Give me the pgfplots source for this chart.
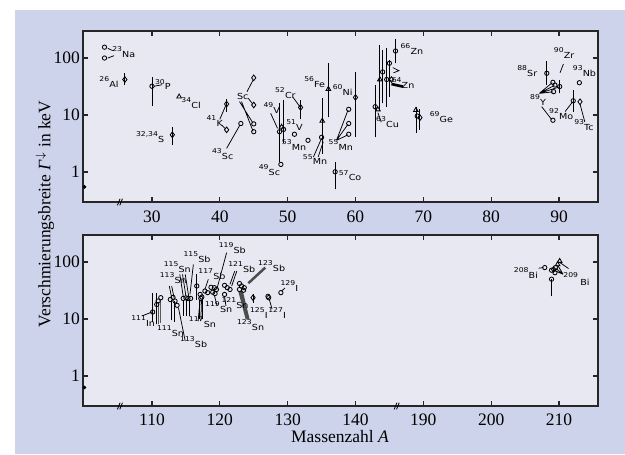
\documentclass[border=0pt]{standalone}
\usepackage{fontspec}
\setmainfont{Liberation Serif}
\newfontfamily\labfont[FakeStretch=1.15]{DejaVu Sans}
\usepackage{pgfplots}
\pgfplotsset{compat=1.18}
\definecolor{outerbg}{RGB}{205,211,235}
\definecolor{innerbg}{RGB}{231,232,242}
\newcommand{\labsup}{\fontsize{4}{4}\selectfont}
\newcommand{\iso}[2]{\raisebox{3.5pt}{\labsup #1}\kern0.1pt#2}
\tikzset{mylab/.style={font=\labfont\fontsize{5}{6}\selectfont, inner sep=0pt, anchor=base west}}
\pgfplotsset{
 mycirc/.style={only marks, mark=o, mark size=1.3pt, mark options={line width=0.5pt, black}},
 mydiam/.style={only marks, mark=diamond, mark size=1.7pt, mark options={line width=0.5pt, black}},
 mytri/.style={only marks, mark=triangle, mark size=1.6pt, mark options={line width=0.5pt, black}},
 mybar/.style={black, line width=0.55pt, mark=none, unbounded coords=jump},
}
\begin{document}
\begin{tikzpicture}[x=0.6pt,y=0.6pt]
\path[use as bounding box] (0,0) rectangle (625,454);
\fill[white] (0,0) rectangle (625,454);
\fill[outerbg] (15,0) rectangle (625,444);

% ---------------- top panel ----------------
\begin{axis}[at={(49.8pt,151.2pt)}, anchor=south west,
  scale only axis, width=309pt, height=102.6pt,
  ymode=log, ymin=0.298, ymax=298,
  ytick={1,10,100}, yticklabels={1,10,100}, yminorticks=false,
  tick align=inside, major tick length=3pt,
  axis line style={line width=0.9pt, black!85},
  every tick/.style={black!85, line width=0.7pt},
  axis background/.style={fill=innerbg},
  tick label style={font=\fontsize{10.5}{12}\selectfont},
  yticklabel style={xshift=1.7pt},
  xticklabel style={yshift=-1.6pt},
  clip=false,
  xmin=19.83, xmax=95.75,
  xtick={30,40,50,60,70,80,90}, xticklabels={30,40,50,60,70,80,90}]
\addplot[mybar] coordinates {
(26,34)(26,55)(26,nan)
(30,14.4)(30,47)(30,nan)
(33,3.0)(33,6.2)(33,nan)
(41,11.5)(41,19.5)(41,nan)
(48.8,1.52)(48.8,16)(48.8,nan)
(49.4,3.2)(49.4,18)(49.4,nan)
(51.9,8.4)(51.9,18)(51.9,nan)
(56,9.1)(56,81)(56,nan)
(55.1,2.1)(55.1,19.6)(55.1,nan)
(60,4.2)(60,57)(60,nan)
(57,0.5)(57,1.5)(57,nan)
(62.9,4.06)(62.9,33.6)(62.9,nan)
(63.5,12.2)(63.5,169)(63.5,nan)
(64,16)(64,140)(64,nan)
(64.6,14)(64.6,148)(64.6,nan)
(65,21)(65,92)(65,nan)
(65.9,81)(65.9,213)(65.9,nan)
(69,4.8)(69,14)(69,nan)
(69.5,5.5)(69.5,13)(69.5,nan)
(88.2,34)(88.2,90)(88.2,nan)
(90.1,24)(90.1,41)(90.1,nan)
(92.1,11.5)(92.1,27.5)
};
\addplot[mybar, line width=0.45pt] coordinates {
(23.5,100)(24.4,110)(24.4,nan)
(23.5,148)(24.2,135)(24.2,nan)
(30.3,32)(31.5,34)(31.5,nan)
(40.0,8.4)(40.85,14.5)(40.85,nan)
(40.3,6.6)(40.85,5.7)(40.85,nan)
(41.0,2.6)(42.97,6.7)(42.97,nan)
(44.0,25.6)(44.9,41)(44.9,nan)
(44.2,19.6)(44.85,15.6)(44.85,nan)
(42.9,17.2)(44.9,7.2)(44.9,nan)
(43.2,17.2)(44.9,5.2)(44.9,nan)
(47.5,10.7)(48.5,5.85)(48.5,nan)
(50.8,20.4)(51.8,14)(51.8,nan)
(53.8,1.84)(55.0,3.9)(55.0,nan)
(54.5,1.84)(55.25,3.4)(55.25,nan)
(57.2,3.6)(58.9,12.2)(58.9,nan)
(57.2,3.6)(58.9,6.9)(58.9,nan)
(57.2,3.6)(58.9,4.5)(58.9,nan)
(63.3,11)(63.8,7.5)(63.8,nan)
(65.3,40)(64.8,42)(64.8,nan)
(65.5,68)(66.4,60)(65.6,55)(65.6,nan)
(90.65,78.5)(90.15,55)(90.15,nan)
(87.1,24)(89.0,37)(89.0,nan)
(87.1,24)(89.3,33)(89.3,nan)
(87.1,24)(89.1,25.5)(89.1,nan)
(87.1,24)(90.0,31)(90.0,nan)
(87.45,14)(88.9,8.4)(88.9,nan)
(90.9,11.5)(92.0,17)(92.0,nan)
(93.8,7.6)(93.1,15.6)
};
\addplot[mybar, line width=1.6pt] coordinates {(65.3,35)(67.0,31.5)};
\addplot[mycirc] coordinates {
(23,155)(23,100)(30,32)(43.1,7.1)(45,7.0)(45,5.1)(48.8,5.1)(49.4,5.6)
(49,1.36)(51,4.6)(53,3.6)(55,4.06)(59,12.6)(59,7.1)(59,4.6)(57,1.01)
(62.9,14)(64,57)(64.6,42)(65,81)(65.9,133)(69.1,9.6)(88.2,54)
(89.1,37.5)(89.4,33.6)(90.1,31.6)(89.2,25.7)(89.1,8.1)(92.1,17.8)(93,36.9)
};
\addplot[mydiam] coordinates {
(26,42)(33,4.5)(41,15.6)(41,5.5)(45,45)(45,15)(51.9,13.6)(60,20.4)(65.3,42)(69.5,9)(93.1,17.1)
};
\addplot[mytri] coordinates {
(34,21)(49.1,6.2)(56,28.6)(55.1,7.9)(63.3,12.5)(63.6,42)(68.9,12.2)
};
\addplot[only marks, mark=*, mark size=0.9pt, black] coordinates {(20.05,0.55)};
\node[mylab] at (axis cs:24.1,103) {\iso{23}{Na}};
\node[mylab] at (axis cs:22.2,30.6) {\iso{26}{Al}};
\node[mylab] at (axis cs:30.4,27.5) {\iso{30}{P}};
\node[mylab] at (axis cs:34.3,13.1) {\iso{34}{Cl}};
\node[mylab] at (axis cs:27.6,3.27) {\iso{32,34}{S}};
\node[mylab] at (axis cs:38.0,6.4) {\iso{41}{K}};
\node[mylab] at (axis cs:38.8,1.67) {\iso{43}{Sc}};
\node[mylab] at (axis cs:42.5,18.8) {Sc};
\node[mylab] at (axis cs:46.4,10.7) {\iso{49}{V}};
\node[mylab] at (axis cs:48.1,19.6) {\iso{52}{Cr}};
\node[mylab] at (axis cs:49.75,5.3) {\iso{51}{V}};
\node[mylab] at (axis cs:49.1,2.43) {\iso{53}{Mn}};
\node[mylab] at (axis cs:45.7,0.86) {\iso{49}{Sc}};
\node[mylab] at (axis cs:52.4,30.6) {\iso{56}{Fe}};
\node[mylab] at (axis cs:56.6,22.4) {\iso{60}{Ni}};
\node[mylab] at (axis cs:52.2,1.33) {\iso{55}{Mn}};
\node[mylab] at (axis cs:56.0,2.43) {\iso{55}{Mn}};
\node[mylab] at (axis cs:57.5,0.70) {\iso{57}{Co}};
\node[mylab] at (axis cs:63.0,6.1) {\iso{63}{Cu}};
\node[mylab] at (axis cs:66.6,117) {\iso{66}{Zn}};
\node[mylab] at (axis cs:65.3,29.4) {\iso{64}{Zn}};
\node[mylab] at (axis cs:70.9,7.45) {\iso{69}{Ge}};
\node[mylab] at (axis cs:83.8,48.3) {\iso{88}{Sr}};
\node[mylab] at (axis cs:89.2,99) {\iso{90}{Zr}};
\node[mylab] at (axis cs:92.0,47) {\iso{93}{Nb}};
\node[mylab] at (axis cs:85.7,15) {\iso{89}{Y}};
\node[mylab] at (axis cs:88.5,8.4) {\iso{92}{Mo}};
\node[mylab] at (axis cs:92.2,5.3) {\iso{93}{Tc}};
\draw[line width=0.5pt] ([xshift=-1.6pt,yshift=-2pt]axis cs:25.3,0.298) -- ++(1.6pt,4pt);
\draw[line width=0.5pt] ([xshift=-0.2pt,yshift=-2pt]axis cs:25.3,0.298) -- ++(1.6pt,4pt);
\end{axis}

% ---------------- bottom panel ----------------
\begin{axis}[at={(49.8pt,28.8pt)}, anchor=south west,
  scale only axis, width=309pt, height=102.6pt,
  ymode=log, ymin=0.298, ymax=298,
  ytick={1,10,100}, yticklabels={1,10,100}, yminorticks=false,
  tick align=inside, major tick length=3pt,
  axis line style={line width=0.9pt, black!85},
  every tick/.style={black!85, line width=0.7pt},
  axis background/.style={fill=innerbg},
  tick label style={font=\fontsize{10.5}{12}\selectfont},
  yticklabel style={xshift=1.7pt},
  xticklabel style={yshift=-1.2pt},
  clip=false,
  xmin=99.83, xmax=175.75,
  xtick={110,120,130,140,150,160,170}, xticklabels={110,120,130,140,190,200,210}]
\addplot[mybar] coordinates {
(110.1,8.7)(110.1,29)(110.1,nan)
(110.7,8.1)(110.7,29)(110.7,nan)
(112.8,9.5)(112.8,22)(112.8,nan)
(113.3,9)(113.3,21)(113.3,nan)
(114.7,11.5)(114.7,22)(114.7,nan)
(115.1,11.5)(115.1,22)(115.1,nan)
(115.5,11.5)(115.5,22)(115.5,nan)
(116.6,22)(116.6,61)(116.6,nan)
(117.0,10)(117.0,22)(117.0,nan)
(117.4,10)(117.4,22)(117.4,nan)
(124.9,19.5)(124.9,27)(124.9,nan)
(168.9,25)(168.9,50)
};
\addplot[mybar, line width=0.9pt, black!65] coordinates {
(110.95,8.1)(110.95,20)(110.95,nan)
(111.25,8.5)(111.25,22)
};
\addplot[mybar, line width=0.45pt] coordinates {
(108.5,11.3)(110.0,13.3)(110.0,nan)
(112.55,38)(112.9,23.7)(112.9,nan)
(112.9,38)(113.25,23.7)(113.25,nan)
(113.9,15.8)(114.9,4.1)(114.9,nan)
(114.1,60.9)(114.6,25.3)(114.6,nan)
(114.5,60.9)(115.0,25.3)(115.0,nan)
(114.9,60.9)(115.4,25.3)(115.4,nan)
(116.1,91)(115.6,27)(115.6,nan)
(116.8,9.2)(117.1,22)(117.1,nan)
(117.2,9.2)(117.3,22)(117.3,nan)
(118.3,49.7)(117.8,33)(117.8,nan)
(121.0,146)(119.55,33)(119.55,nan)
(119.2,26)(119.6,17)(119.6,nan)
(122.2,69.5)(121.5,40.7)(121.5,nan)
(122.5,69.5)(121.75,38)(121.75,nan)
(120.7,25)(120.9,17)(120.9,nan)
(127.3,22)(127.7,15)(127.7,nan)
(129.1,31)(129.6,35)(129.6,nan)
(167.0,78)(167.7,80)(167.7,nan)
(170.6,61)(169.8,88)(169.8,nan)
(170.6,61)(169.5,78)(169.5,nan)
(170.6,61)(169.2,72)(169.2,nan)
(170.15,97.6)(171.4,77)
};
\addplot[mybar, line width=1.5pt, black!70] coordinates {
(126.7,80)(124.2,42.4)(124.2,nan)
(122.9,31)(124.0,9.9)(124.0,nan)
(123.2,31)(124.2,9.9)
};
\addplot[mycirc] coordinates {
(110.1,13.3)(110.7,18)(110.9,20.7)(111.3,23.7)(112.7,22)(113.1,24)(113.4,20.7)(113.7,17.4)
(114.6,23)(115,23.5)(115.3,23)(115.7,23)(116.6,38)(117.1,27)(117.35,24.4)(117.2,23)
(117.8,31)(118.2,29)(118.7,36)(119.2,35.5)(119.5,33)(118.95,29.6)(119.3,28)
(120.7,39)(121.1,35.5)(121.5,33)(120.7,27)(122.9,42)(123.2,38)(123.6,35.5)
(122.9,33)(123.5,32)(127.1,25)(127.2,23.7)(129,29)
(167.9,80)(168.9,72)(169.5,80)(169.4,65)(168.9,50)
};
\addplot[mydiam] coordinates {(124.9,23.7)(169.2,74)};
\addplot[mytri] coordinates {(169.8,91)(170.1,104)};
\addplot[only marks, mark=*, mark size=0.9pt, black] coordinates {(100.05,0.63)};
\node[mylab] at (axis cs:106.9,7.5) {\iso{111}{In}};
\node[mylab] at (axis cs:110.7,5.0) {\iso{111}{Sn}};
\node[mylab] at (axis cs:111.1,41.8) {\iso{113}{Sn}};
\node[mylab] at (axis cs:114.1,3.15) {\iso{113}{Sb}};
\node[mylab] at (axis cs:111.7,65) {\iso{115}{Sn}};
\node[mylab] at (axis cs:114.6,97.6) {\iso{115}{Sb}};
\node[mylab] at (axis cs:115.4,7.25) {\iso{117}{Sn}};
\node[mylab] at (axis cs:116.8,49.7) {\iso{117}{Sb}};
\node[mylab] at (axis cs:117.8,12.9) {\iso{119}{Sn}};
\node[mylab] at (axis cs:119.8,140) {\iso{119}{Sb}};
\node[mylab] at (axis cs:121.2,65) {\iso{121}{Sb}};
\node[mylab] at (axis cs:120.2,15.4) {\iso{121}{Sn}};
\node[mylab] at (axis cs:125.6,68) {\iso{123}{Sb}};
\node[mylab] at (axis cs:122.5,6.3) {\iso{123}{Sn}};
\node[mylab] at (axis cs:124.4,10.3) {\iso{125}{I}};
\node[mylab] at (axis cs:127.1,10.3) {\iso{127}{I}};
\node[mylab] at (axis cs:128.9,31) {\iso{129}{I}};
\node[mylab] at (axis cs:163.3,51.8) {\iso{208}{Bi}};
\node[mylab, font=\labfont\labsup] at (axis cs:170.6,54) {209};
\node[mylab] at (axis cs:173.1,39) {Bi};
\draw[line width=0.5pt] ([xshift=-1.6pt,yshift=-2pt]axis cs:105.3,0.298) -- ++(1.6pt,4pt);
\draw[line width=0.5pt] ([xshift=-0.2pt,yshift=-2pt]axis cs:105.3,0.298) -- ++(1.6pt,4pt);
\draw[line width=0.5pt] ([xshift=-1.6pt,yshift=-2pt]axis cs:146.1,0.298) -- ++(1.6pt,4pt);
\draw[line width=0.5pt] ([xshift=-0.2pt,yshift=-2pt]axis cs:146.1,0.298) -- ++(1.6pt,4pt);
\end{axis}

\node[rotate=90, font=\fontsize{10.5}{12}\selectfont] at (45,240) {Verschmierungsbreite \textit{Γ}$^{\downarrow}$ in keV};
\node[font=\fontsize{10.5}{12}\selectfont] at (340,17) {Massenzahl \textit{A}};
\end{tikzpicture}
\end{document}
